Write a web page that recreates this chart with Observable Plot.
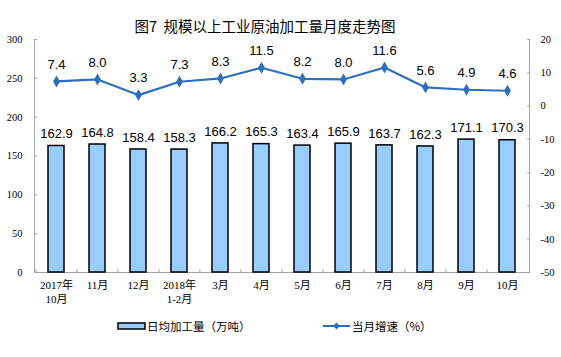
<!DOCTYPE html>
<html><head><meta charset="utf-8">
<script src="https://cdn.jsdelivr.net/npm/d3@7"></script>
<script src="https://cdn.jsdelivr.net/npm/@observablehq/plot@0.6"></script>
<style>
body{margin:0;background:#fff;}
#wrap{position:relative;width:561px;height:357px;overflow:hidden;font-family:"Noto Sans CJK SC","Liberation Sans",sans-serif;}
#title{position:absolute;left:0;top:0;width:530px;height:34px;text-align:center;font-size:14.5px;line-height:16px;padding-top:18px;box-sizing:border-box;color:#000;font-weight:normal;}
#chart{position:absolute;left:0;top:34px;}
.leg{position:absolute;top:318px;font-size:11.5px;line-height:16px;color:#000;white-space:nowrap;}
</style></head>
<body><div id="wrap"><div id="title">图7&nbsp; 规模以上工业原油加工量月度走势图</div><div id="chart"></div>
<div class="leg" style="left:117px;"><svg width="30" height="16" style="vertical-align:top"><rect x="1" y="5" width="27" height="6" fill="#99ccff" stroke="#000" stroke-width="1.5"/></svg><span>日均加工量（万吨）</span></div>
<div class="leg" style="left:322px;"><svg width="30" height="16" style="vertical-align:top"><line x1="1" y1="8" x2="28" y2="8" stroke="#2e6fbd" stroke-width="2"/><path d="M14.5,4.5L18,8L14.5,11.5L11,8Z" fill="#2e6fbd"/></svg><span>当月增速（%）</span></div>
</div>
<script>
const months = ["2017年\n10月","11月","12月","2018年\n1-2月","3月","4月","5月","6月","7月","8月","9月","10月"];
const output = [162.9,164.8,158.4,158.3,166.2,165.3,163.4,165.9,163.7,162.3,171.1,170.3];
const growth = [7.4,8.0,3.3,7.3,8.3,11.5,8.2,8.0,11.6,5.6,4.9,4.6];
const leftTicks = [0,50,100,150,200,250,300];
const rightTicks = [-50,-40,-30,-20,-10,0,10,20];
const rightMin = -50, rightMax = 20, leftMax = 300;

const toLeft = v => (v - rightMin) * leftMax / (rightMax - rightMin);
const data = months.map((m, i) => ({m, out: output[i], g: growth[i]}));
const lineColor = "#2e6fbd";
const serif = "Liberation Serif, Noto Sans CJK SC, serif";
const sans = "Liberation Sans, Arial, sans-serif";

const chart = Plot.plot({
  width: 561, height: 280,
  marginTop: 5, marginBottom: 42, marginLeft: 34, marginRight: 32,
  style: {background: "#fff", overflow: "visible"},
  x: {domain: months, paddingInner: 0.62, paddingOuter: 0.31, label: null},
  y: {domain: [0, leftMax], label: null},
  marks: [
    Plot.frame({anchor: "left", stroke: "#a6a6a6"}),
    Plot.frame({anchor: "right", stroke: "#a6a6a6"}),
    Plot.frame({anchor: "bottom", stroke: "#a6a6a6"}),
    Plot.axisY({ticks: leftTicks, anchor: "left", tickSize: 0, tickPadding: 12, fontSize: 10.5, fontFamily: serif, fill: "#000", label: null}),
    Plot.axisY({ticks: leftTicks, anchor: "left", tickSize: 3, text: null, dx: 3, stroke: "#a6a6a6"}),
    Plot.axisY(rightTicks.map(toLeft), {anchor: "right", tickSize: 0, tickPadding: 11, fontSize: 10.5, fontFamily: serif, fill: "#000", label: null,
      tickFormat: d => String(Math.round(d * (rightMax - rightMin) / leftMax + rightMin))}),
    Plot.axisY(rightTicks.map(toLeft), {anchor: "right", tickSize: 3, text: null, dx: -3, stroke: "#a6a6a6", label: null}),
    Plot.axisX({tickSize: 0, tickPadding: 6, fontSize: 11, fontFamily: serif, fill: "#000", label: null, lineHeight: 1.3}),
    Plot.axisX({tickSize: 3, text: null, dx: -20.6, dy: -3, stroke: "#a6a6a6", label: null}),
    Plot.barY(data, {x: "m", y: "out", fill: "#99ccff", stroke: "#000", strokeWidth: 1.5}),
    Plot.text(data, {x: "m", y: "out", text: d => d.out.toFixed(1), dy: -12, fontSize: 13, fontFamily: sans, fill: "#000"}),
    Plot.line(data, {x: "m", y: d => toLeft(d.g), stroke: lineColor, strokeWidth: 2.2}),
    Plot.dot(data, {x: "m", y: d => toLeft(d.g), symbol: "diamond", r: 3.6, fill: lineColor}),
    Plot.text(data, {x: "m", y: d => toLeft(d.g), text: d => d.g.toFixed(1), dy: -17, fontSize: 13, fontFamily: sans, fill: "#000"})
  ]
});
document.getElementById("chart").appendChild(chart);
</script></body></html>
